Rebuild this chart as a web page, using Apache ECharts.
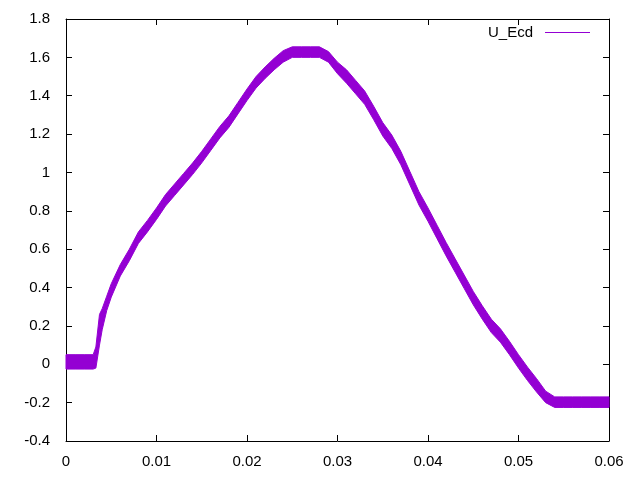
<!DOCTYPE html>
<html><head><meta charset="utf-8">
<script src="https://cdn.jsdelivr.net/npm/echarts@6/dist/echarts.min.js"></script>
<style>html,body{margin:0;padding:0;background:#fff}#c{width:640px;height:480px}</style>
</head><body><div id="c"></div>
<script>
// x positions (s)
var xs = [0, 0.001, 0.002, 0.003, 0.0033, 0.0037, 0.004, 0.0045, 0.005, 0.006, 0.007, 0.008, 0.009,
  0.010, 0.011, 0.012, 0.013, 0.014, 0.015, 0.016, 0.017, 0.018, 0.019, 0.020, 0.021, 0.022, 0.023,
  0.024, 0.025, 0.026, 0.027, 0.028, 0.029, 0.030, 0.031, 0.032, 0.033, 0.034, 0.035, 0.036, 0.037,
  0.038, 0.039, 0.040, 0.041, 0.042, 0.043, 0.044, 0.045, 0.046, 0.047, 0.048, 0.049, 0.050, 0.051,
  0.052, 0.053, 0.054, 0.055, 0.056, 0.057, 0.058, 0.059, 0.060];
// lower edge of the noisy band
var lo = [-0.025, -0.025, -0.025, -0.025, -0.02, 0.10, 0.18, 0.28, 0.35, 0.46, 0.54, 0.63, 0.69,
  0.755, 0.825, 0.88, 0.935, 0.99, 1.05, 1.115, 1.18, 1.235, 1.305, 1.375, 1.44, 1.49, 1.535,
  1.575, 1.60, 1.60, 1.60, 1.60, 1.575, 1.515, 1.465, 1.41, 1.355, 1.275, 1.19, 1.125, 1.04,
  0.935, 0.83, 0.745, 0.655, 0.565, 0.48, 0.395, 0.31, 0.235, 0.165, 0.115, 0.05, -0.02, -0.085,
  -0.145, -0.2, -0.225, -0.225, -0.225, -0.225, -0.225, -0.225, -0.225];
// upper edge of the noisy band
var hi = [0.05, 0.05, 0.05, 0.05, 0.09, 0.26, 0.29, 0.355, 0.42, 0.52, 0.60, 0.69, 0.75,
  0.815, 0.885, 0.94, 0.995, 1.05, 1.11, 1.175, 1.24, 1.295, 1.365, 1.435, 1.50, 1.55, 1.595,
  1.635, 1.655, 1.655, 1.655, 1.655, 1.63, 1.575, 1.535, 1.48, 1.425, 1.345, 1.26, 1.195, 1.11,
  1.005, 0.9, 0.815, 0.725, 0.635, 0.55, 0.465, 0.38, 0.305, 0.235, 0.185, 0.12, 0.05, -0.015,
  -0.075, -0.14, -0.17, -0.17, -0.17, -0.17, -0.17, -0.17, -0.17];
var xTicks = [0, 0.01, 0.02, 0.03, 0.04, 0.05, 0.06];
var yTicks = [-0.4, -0.2, 0, 0.2, 0.4, 0.6, 0.8, 1, 1.2, 1.4, 1.6, 1.8];
var seriesName = 'U_Ecd';
var COLOR = '#9400d3';

var font = {fontFamily: 'Liberation Sans', fontSize: 15, color: '#000'};
var centre = xs.map(function (x, i) { return [x, (lo[i] + hi[i]) / 2]; });

var chart = echarts.init(document.getElementById('c'), null, {renderer: 'canvas'});
function axisCommon() {
  return {
    axisLine: {show: true, onZero: false, lineStyle: {color: '#000', width: 1}},
    axisTick: {show: true, inside: true, length: 6, lineStyle: {color: '#000'}},
    splitLine: {show: false}
  };
}
chart.setOption({
  animation: false,
  backgroundColor: '#fff',
  grid: {left: 66, right: 31, top: 19, bottom: 39},
  legend: {
    right: 50, top: 25, data: [{name: seriesName, icon: 'rect'}], align: 'right', padding: 0,
    itemWidth: 45, itemHeight: 1, itemGap: 0,
    itemStyle: {color: COLOR},
    textStyle: {fontFamily: 'Liberation Sans', fontSize: 15, color: '#000', padding: [0, 7, 0, 0]}
  },
  xAxis: [
    Object.assign({type: 'value', min: xTicks[0], max: xTicks[xTicks.length - 1], interval: 0.01, position: 'bottom',
      axisLabel: Object.assign({margin: 13}, font)}, axisCommon()),
    Object.assign({type: 'value', min: xTicks[0], max: xTicks[xTicks.length - 1], interval: 0.01, position: 'top',
      axisLabel: {show: false}}, axisCommon())
  ],
  yAxis: [
    Object.assign({type: 'value', min: yTicks[0], max: yTicks[yTicks.length - 1], interval: 0.2, position: 'left',
      axisLabel: Object.assign({margin: 16}, font)}, axisCommon()),
    Object.assign({type: 'value', min: yTicks[0], max: yTicks[yTicks.length - 1], interval: 0.2, position: 'right',
      axisLabel: {show: false}}, axisCommon())
  ],
  series: [
    {
      type: 'custom', silent: true, xAxisIndex: 0, yAxisIndex: 0,
      data: [[0, 0]],
      renderItem: function (params, api) {
        var pts = [];
        for (var i = 0; i < xs.length; i++) pts.push(api.coord([xs[i], hi[i]]));
        for (var j = xs.length - 1; j >= 0; j--) pts.push(api.coord([xs[j], lo[j]]));
        return {type: 'polygon', shape: {points: pts}, style: {fill: COLOR, stroke: COLOR, lineWidth: 1}};
      },
      z: 2
    },
    {
      name: seriesName, type: 'line', data: centre, showSymbol: false, symbol: 'none',
      lineStyle: {color: COLOR, width: 1}, itemStyle: {color: COLOR}, z: 3
    }
  ]
});
</script></body></html>
